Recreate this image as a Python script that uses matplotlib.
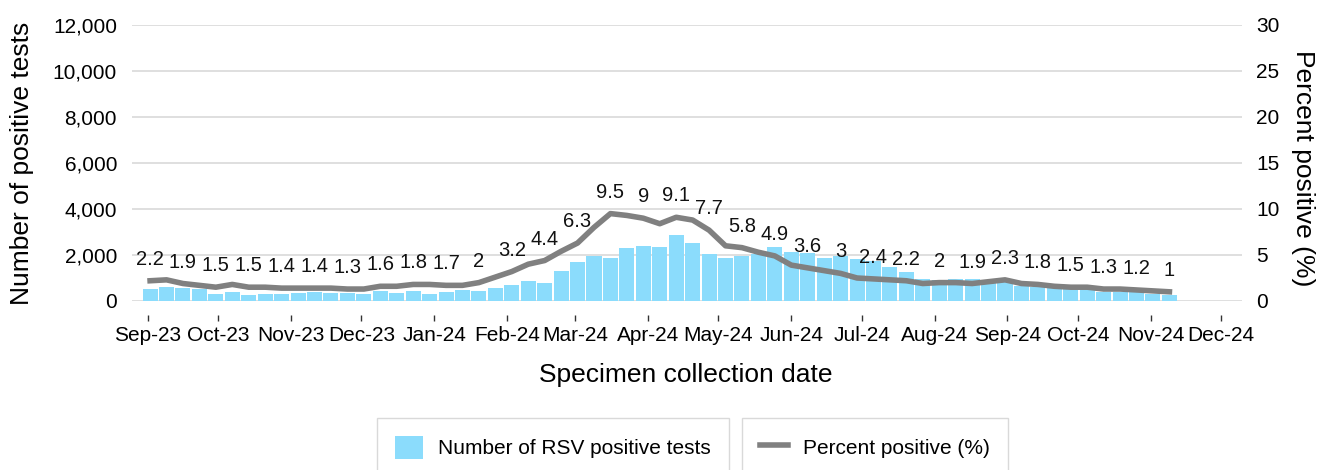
import matplotlib
matplotlib.use('Agg')
import matplotlib.pyplot as plt
import matplotlib.dates as mdates
from matplotlib.patches import Patch
from matplotlib.lines import Line2D
from matplotlib.ticker import FuncFormatter
import pandas as pd

plt.rcParams['font.family'] = ['Liberation Sans', 'DejaVu Sans']

# ---- data (weekly, week ending Saturday) ----
week_start = '2023-09-02'
n_weeks = 63
week_ending = pd.date_range(week_start, periods=n_weeks, freq='7D')

positive_tests = [510, 620, 575, 520, 300, 390, 255, 300, 300, 345,
                  400, 345, 345, 310, 430, 355, 430, 300, 390, 478,
                  435, 565, 696, 870, 783, 1300, 1696, 1957, 1870, 2304,
                  2391, 2348, 2870, 2522, 2043, 1870, 1957, 2043, 2348, 2130,
                  2087, 1870, 1957, 1826, 1739, 1478, 1261, 957, 913, 957,
                  957, 900, 820, 667, 623, 551, 522, 507, 377, 406,
                  377, 290, 261]

percent_positive = [2.2, 2.3, 1.9, 1.7, 1.5, 1.8, 1.5, 1.5, 1.4, 1.4,
                    1.4, 1.4, 1.3, 1.3, 1.6, 1.6, 1.8, 1.8, 1.7, 1.7,
                    2.0, 2.6, 3.2, 4.0, 4.4, 5.4, 6.3, 8.0, 9.5, 9.3,
                    9.0, 8.4, 9.1, 8.8, 7.7, 6.0, 5.8, 5.3, 4.9, 3.9,
                    3.6, 3.3, 3.0, 2.5, 2.4, 2.3, 2.2, 1.9, 2.0, 2.0,
                    1.9, 2.1, 2.3, 1.9, 1.8, 1.6, 1.5, 1.5, 1.3, 1.3,
                    1.2, 1.1, 1.0]

bar_label = 'Number of RSV positive tests'
line_label = 'Percent positive (%)'
left_ticks = [0, 2000, 4000, 6000, 8000, 10000, 12000]
right_ticks = [0, 5, 10, 15, 20, 25, 30]

bar_color = '#8BDCFC'
line_color = '#808080'
grid_color = '#D9D9D9'

W, H = 1328, 470
fig = plt.figure(figsize=(W / 100, H / 100), dpi=100)
ax = fig.add_axes([132 / W, 1 - 301 / H, 1110 / W, 276 / H])

x = mdates.date2num(week_ending.to_pydatetime())
ax.bar(x, positive_tests, width=6.4, color=bar_color, linewidth=0, zorder=2)

x0 = mdates.date2num(pd.Timestamp('2023-09-01').to_pydatetime())
ax.set_xlim(x0 - 6.7, x0 + 465.9)
ax.set_ylim(left_ticks[0], left_ticks[-1])
ax.set_yticks(left_ticks)
ax.yaxis.set_major_formatter(FuncFormatter(lambda v, p: f'{int(v):,}'))
ax.grid(axis='y', color=grid_color, linewidth=1.2, zorder=0)
ax.set_axisbelow(True)

ax.xaxis.set_major_locator(mdates.MonthLocator())
ax.xaxis.set_major_formatter(mdates.DateFormatter('%b-%y'))
for s in ax.spines.values():
    s.set_visible(False)
ax.spines['bottom'].set_position(('outward', 10))
ax.tick_params(axis='x', length=4.3, width=1, color='#333333', pad=4, labelsize=15)
ax.tick_params(axis='y', length=0, pad=10.8, labelsize=15)

ax2 = ax.twinx()
ax2.plot(x, percent_positive, color=line_color, linewidth=4, solid_joinstyle='round', zorder=3)
ax2.set_ylim(right_ticks[0], right_ticks[-1])
ax2.set_yticks(right_ticks)
for s in ax2.spines.values():
    s.set_visible(False)
ax2.tick_params(axis='y', length=0, pad=10, labelsize=15)

for i in range(0, n_weeks, 2):
    v = percent_positive[i]
    ax2.annotate(f'{v:g}', (x[i], v), xytext=(0, 11.5), textcoords='offset points',
                 ha='center', va='baseline', fontsize=14.5, color='#111111')

ax.set_ylabel('Number of positive tests', fontsize=19, va='center')
ax.yaxis.set_label_coords(-0.099, 0.5)
ax2.set_ylabel('Percent positive (%)', fontsize=19, rotation=270, va='center')
ax2.yaxis.set_label_coords(1.055, 0.48)
ax.set_xlabel('Specimen collection date', fontsize=19, va='center')
ax.xaxis.set_label_coords(0.499, -0.268)

common = dict(loc='upper left', bbox_transform=fig.transFigure, frameon=True,
              fancybox=False, edgecolor=grid_color, framealpha=1, fontsize=15,
              handlelength=1.35, handleheight=1.35, handletextpad=0.75,
              borderpad=0.85, borderaxespad=0)
leg1 = fig.legend(handles=[Patch(facecolor=bar_color, edgecolor='none')], labels=[bar_label],
                  bbox_to_anchor=(377 / W, 1 - 418 / H), **common)
leg2 = fig.legend(handles=[Line2D([0], [0], color=line_color, linewidth=4)], labels=[line_label],
                  bbox_to_anchor=(742 / W, 1 - 418 / H), **common)
for lg in (leg1, leg2):
    lg.get_frame().set_linewidth(1.0)

fig.savefig('out.png', dpi=100)
